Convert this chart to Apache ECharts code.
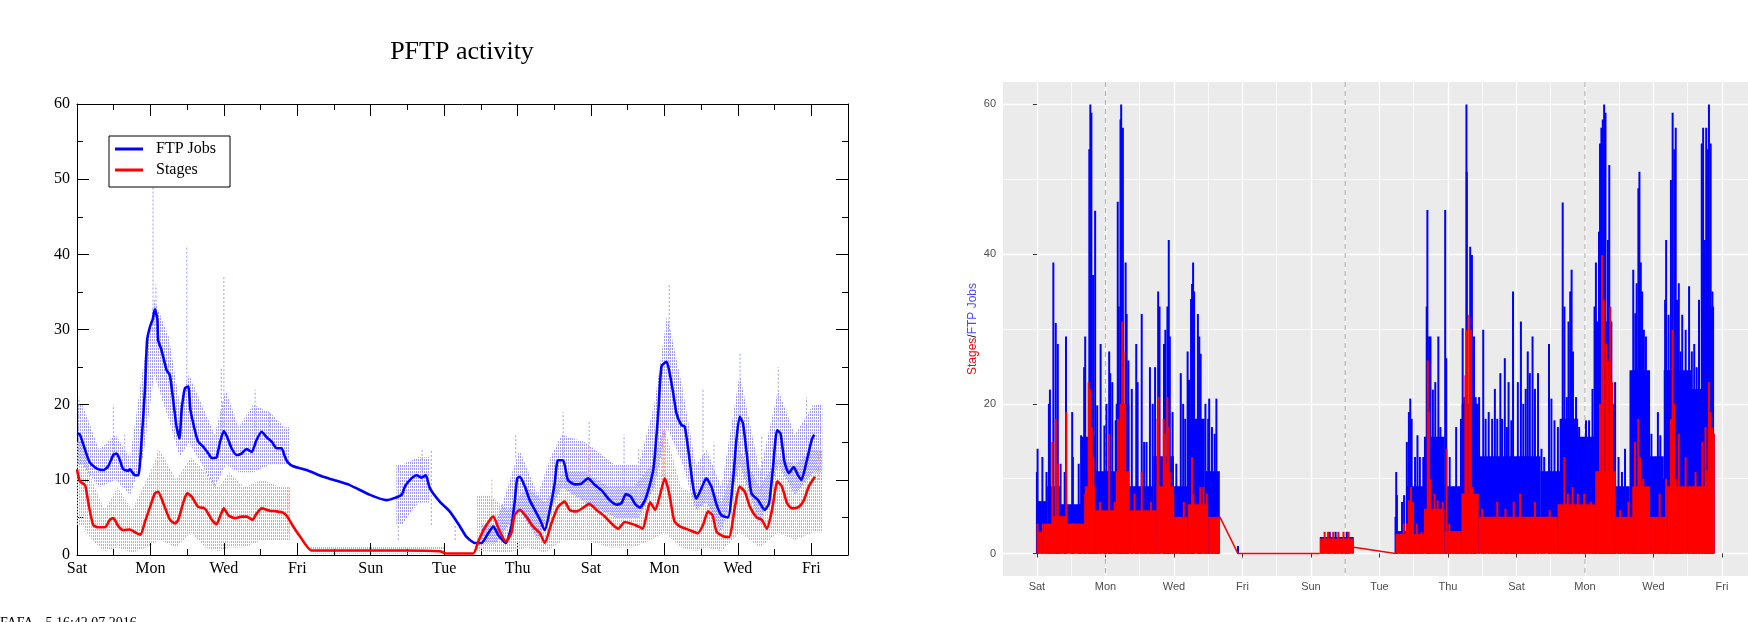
<!DOCTYPE html>
<html>
<head>
<meta charset="utf-8">
<title>PFTP activity</title>
<script src="https://cdn.jsdelivr.net/npm/echarts@6/dist/echarts.min.js"></script>
<style>
html, body { margin: 0; padding: 0; background: #fff; }
#main { width: 1748px; height: 622px; }
</style>
</head>
<body>
<div id="main"></div>
<script>
// day 0 is a Saturday, labels every 2 days
const dayNames = ['Sat', 'Sun', 'Mon', 'Tue', 'Wed', 'Thu', 'Fri'];

// ---- left panel (xmgrace plot) ----
// smoothed curves [day, value]
const jobsSmooth = [
	[0,16.2],[0.08,16.0],[0.22,14.0],[0.35,12.3],[0.54,11.5],[0.72,11.3],[0.85,11.8],[0.99,13.3],[1.08,13.5],[1.17,12.6],
	[1.26,11.4],[1.4,11.2],[1.44,11.4],[1.58,10.6],[1.67,10.6],[1.76,15.3],[1.85,22.0],[1.91,28.6],[1.99,30.4],[2.06,31.3],
	[2.12,32.7],[2.19,31.3],[2.21,28.6],[2.3,27.3],[2.44,24.6],[2.53,23.9],[2.62,20.6],[2.71,17.1],[2.79,15.5],[2.85,19.3],
	[2.94,22.2],[3.03,22.4],[3.09,19.3],[3.21,16.6],[3.3,15.1],[3.44,14.4],[3.58,13.5],[3.67,12.9],[3.8,13.0],[3.89,14.9],
	[4.0,16.5],[4.09,15.7],[4.21,14.2],[4.35,13.3],[4.48,13.5],[4.62,14.1],[4.76,13.7],[4.89,15.3],[5.03,16.4],[5.16,15.7],
	[5.3,15.1],[5.44,14.2],[5.57,14.2],[5.66,13.1],[5.73,12.4],[5.89,11.8],[6.25,11.3],[6.71,10.4],[6.98,10.0],[7.43,9.3],
	[7.98,8.0],[8.43,7.3],[8.84,8.0],[8.93,9.1],[9.07,10.0],[9.25,10.6],[9.38,10.3],[9.5,10.6],[9.61,8.9],[9.88,7.1],
	[10.15,5.8],[10.43,3.8],[10.61,2.4],[10.84,1.6],[11.02,1.6],[11.2,2.9],[11.34,3.8],[11.47,2.7],[11.68,1.6],[11.83,3.8],
	[11.92,7.0],[11.99,10.2],[12.06,10.4],[12.2,9.1],[12.33,7.3],[12.47,6.0],[12.61,4.7],[12.74,3.3],[12.88,6.0],[13.01,9.5],
	[13.1,12.6],[13.24,12.6],[13.37,10.0],[13.56,9.4],[13.74,9.5],[13.92,10.2],[14.11,9.3],[14.29,8.6],[14.51,7.3],[14.7,6.7],
	[14.83,6.9],[14.95,8.1],[15.08,7.8],[15.2,6.8],[15.33,6.3],[15.47,7.3],[15.61,9.5],[15.71,11.8],[15.83,18.8],[15.92,25.1],
	[16.06,25.7],[16.15,24.0],[16.24,21.5],[16.33,18.8],[16.46,17.3],[16.55,17.1],[16.65,14.0],[16.78,9.1],[16.87,7.5],[17.01,8.9],
	[17.14,10.2],[17.28,9.1],[17.42,6.7],[17.55,5.3],[17.73,5.0],[17.87,10.0],[17.96,15.3],[18.05,18.4],[18.14,17.5],[18.25,13.1],
	[18.37,8.2],[18.55,7.3],[18.73,6.0],[18.85,6.9],[18.96,11.8],[19.07,16.6],[19.16,16.2],[19.27,12.4],[19.39,10.9],[19.52,11.7],
	[19.64,10.6],[19.73,10.0],[19.87,12.4],[20.01,15.3],[20.08,16.0]
];
const stagesSmooth = [
	[0,11.4],[0.08,9.8],[0.22,9.3],[0.31,6.9],[0.44,4.0],[0.58,3.7],[0.76,3.7],[0.9,4.7],[0.99,4.9],[1.13,3.8],
	[1.26,3.3],[1.44,3.4],[1.62,2.9],[1.73,2.7],[1.85,4.4],[1.99,6.4],[2.12,8.2],[2.21,8.4],[2.35,6.9],[2.53,4.7],
	[2.67,4.2],[2.76,4.7],[2.89,6.9],[3.0,8.2],[3.12,7.8],[3.3,6.4],[3.48,6.2],[3.67,4.7],[3.8,4.1],[3.91,5.3],
	[4.0,6.2],[4.12,5.3],[4.3,4.9],[4.48,5.1],[4.62,5.1],[4.78,4.7],[4.89,5.5],[5.03,6.2],[5.25,5.9],[5.44,5.8],
	[5.62,5.6],[5.73,5.1],[5.89,3.8],[6.07,2.5],[6.39,0.6],[7.62,0.6],[8.98,0.6],[9.88,0.5],[10.06,0.2],[10.79,0.2],
	[10.93,1.8],[11.07,3.3],[11.25,4.7],[11.34,5.1],[11.5,3.3],[11.68,1.8],[11.83,2.9],[11.92,5.3],[12.06,6.0],[12.24,5.1],
	[12.42,3.8],[12.61,2.9],[12.74,1.6],[12.92,4.2],[13.1,6.4],[13.28,7.1],[13.42,6.0],[13.61,5.8],[13.79,6.3],[13.95,6.8],
	[14.15,6.0],[14.38,5.1],[14.6,4.0],[14.74,3.5],[14.92,4.4],[15.08,4.2],[15.25,3.9],[15.41,3.5],[15.52,5.5],[15.61,7.0],
	[15.75,6.0],[15.87,7.8],[16.01,10.2],[16.13,8.2],[16.27,4.5],[16.42,3.8],[16.69,3.3],[16.91,2.9],[17.05,4.0],[17.19,5.8],
	[17.31,5.3],[17.42,3.1],[17.6,2.5],[17.76,2.4],[17.92,6.4],[18.05,9.1],[18.19,8.4],[18.33,6.4],[18.51,5.0],[18.65,4.7],
	[18.79,3.5],[18.93,6.0],[19.08,9.8],[19.2,9.1],[19.34,6.9],[19.48,6.2],[19.66,6.4],[19.8,7.3],[19.93,9.1],[20.1,10.4]
];
// raw-sample scatter, as bands [dayFrom, dayTo, low, high]
const jobsNoise = [
	[0,0.3,12,20],[0.3,0.9,9,14],[0.9,1.2,10,16],[1.2,1.7,8,13],[1.7,1.9,13,25],[1.9,2.3,24,34],[2.3,2.7,18,29],
	[2.7,2.9,13,20],[2.9,3.2,15,24],[3.2,3.6,12,20],[3.6,3.9,9,16],[3.9,4.2,12,22],[4.2,4.6,11,17],[4.6,5.0,11,20],
	[5.0,5.5,12,19],[5.5,5.8,12,17],[8.7,9.0,4,12],[9.0,9.6,7,13],[11.0,11.8,1.5,4],[11.8,12.3,6,14],[12.3,12.8,2,8],
	[12.8,13.0,6,13],[13.0,13.4,9,16],[13.4,14.3,7,15],[14.3,15.0,5,12],[15.0,15.6,5,12],[15.6,15.85,9,20],[15.85,16.3,17,32],
	[16.3,16.7,12,22],[16.7,17.0,6,12],[17.0,17.3,7,14],[17.3,17.8,3,9],[17.8,18.3,12,24],[18.3,18.9,4,11],[18.9,19.3,12,22],
	[19.3,19.8,8,16],[19.8,20.3,11,20]
];
const stagesNoise = [
	[0,0.3,4,15],[0.3,0.5,2,10],[0.5,1.0,0.5,6],[1.0,1.2,1,9],[1.2,1.8,0.3,6],[1.8,2.0,1,10],[2.0,2.5,2,14],[2.5,2.9,1,10],
	[2.9,3.3,3,13],[3.3,3.7,1,11],[3.7,4.0,0.5,9],[4.0,4.3,1,11],[4.3,4.8,1,9],[4.8,5.3,2,10],[5.3,5.8,2,9],
	[6.35,10.0,0.2,1.1],[10.9,11.5,0.5,8],[11.5,12.0,0.3,6],[12.0,12.5,1,9],[12.5,13.0,0.3,7],[13.0,13.5,2,11],[13.5,14.2,2,11],
	[14.2,14.8,1,9],[14.8,15.5,1,9],[15.5,15.8,2,12],[15.8,16.2,3,17],[16.2,16.7,1,9],[16.7,17.0,0.5,8],[17.0,17.3,1,10],
	[17.3,17.8,0.5,7],[17.8,18.3,3,14],[18.3,18.9,1,9],[18.9,19.3,3,13],[19.3,19.8,2,12],[19.8,20.3,3,14]
];
// isolated dotted streaks [day, low, high]
const jobsStreaks = [
	[0.05,14,21],[0.99,13,20],[1.3,11,16],[2.07,30,50],[2.15,30,36],[2.5,24,28],[2.99,22,41],[3.93,16,25],[4.0,17,37],
	[4.85,16,22],[5.25,16,19],[8.75,2,12],[9.4,10,14],[9.65,4,14],[10.3,2,4],[11.95,13,16],[13.24,13,19],[13.95,10,18],
	[14.9,9,16],[15.3,9,14],[16.13,25,36],[16.45,17,21],[17.05,10,22],[17.35,8,15],[18.06,18,27],[18.65,8,16],[19.1,18,25],
	[19.87,15,21],[20.25,13,20]
];
const stagesStreaks = [
	[2.2,8,14],[5.75,3,9],[11.3,5,10],[13.93,9,14],[15.95,10,18],[16.0,10,17],[18.05,10,15],[20.2,10,14]
];

// ---- right panel (ggplot) ----
// dense filled level [dayFrom, dayTo, value]
const ftpBase = [
	[0,0.3,7],[0.3,0.7,9],[0.7,1.3,6.6],[1.3,1.7,15.6],[1.7,2.3,11],[2.3,2.7,20],[2.7,3.4,9],[3.4,4.0,13],[4.0,4.4,9],
	[4.4,4.9,18],[4.9,5.34,11],[8.26,9.25,2.2],[10.47,10.8,3],[10.8,11.3,9],[11.3,11.9,15.6],[11.9,12.4,9],[12.4,12.9,20],
	[12.9,14.7,13],[14.7,15.3,11],[15.3,15.8,18],[15.8,16.3,15.6],[16.3,16.8,31],[16.8,17.3,9],[17.3,17.9,24.5],
	[17.9,18.3,13],[18.3,19.1,24.5],[19.1,19.4,22],[19.4,19.77,33]
];
const stageBase = [
	[0,0.15,2.9],[0.15,0.45,4],[0.45,0.9,5],[0.9,1.4,4],[1.4,1.7,9],[1.7,2.3,5.8],[2.3,2.7,11],[2.7,3.5,5.8],[3.5,4.0,9],
	[4.0,4.4,4.9],[4.4,5.0,6.6],[5.0,5.34,4.9],[8.26,9.25,2.0],[10.47,11.3,2.6],[11.3,11.9,6],[11.9,12.4,3],[12.4,12.9,8],
	[12.9,15.2,4.9],[15.2,16.3,6.6],[16.3,16.9,11],[16.9,17.4,4.9],[17.4,17.9,9],[17.9,18.4,4.9],[18.4,19.0,9],[19.0,19.77,9]
];
// individual peaks [day, value]
const ftpSpikes = [
	[0.0,10.9],[0.02,14.0],[0.16,12.9],[0.28,10.9],[0.35,20.0],[0.38,21.9],[0.48,38.9],[0.55,30.8],[0.61,28.0],[0.69,12.0],
	[0.81,10.9],[0.85,29.0],[1.03,18.9],[1.05,12.9],[1.22,12.0],[1.29,15.8],[1.38,24.9],[1.41,29.0],[1.53,54.0],[1.56,60.0],
	[1.59,58.9],[1.64,37.2],[1.70,45.8],[1.76,19.8],[1.86,28.0],[1.97,17.1],[2.03,20.0],[2.11,27.0],[2.14,24.1],[2.20,22.9],
	[2.30,17.8],[2.36,47.0],[2.39,33.0],[2.44,58.0],[2.46,60.0],[2.51,56.9],[2.59,38.9],[2.62,32.0],[2.67,25.8],[2.77,22.0],
	[2.90,28.0],[2.94,22.9],[3.06,32.0],[3.13,14.9],[3.20,14.9],[3.30,24.9],[3.38,20.0],[3.45,24.9],[3.54,35.0],[3.58,33.0],
	[3.71,28.0],[3.75,29.9],[3.81,33.0],[3.85,41.9],[3.88,29.0],[3.96,18.9],[4.07,12.0],[4.20,24.1],[4.27,20.0],[4.33,18.0],
	[4.40,27.0],[4.44,23.2],[4.50,34.0],[4.53,36.0],[4.56,38.9],[4.59,35.0],[4.70,32.0],[4.74,29.0],[4.78,26.7],[4.92,20.0],
	[5.00,18.0],[5.03,20.7],[5.11,16.9],[5.19,16.0],[5.24,20.7],[5.28,10.9],[5.87,1.0],
	[8.33,1.8],[8.55,2.9],[8.72,2.9],[8.9,2.2],[9.05,2.9],
	[10.47,4.9],[10.49,10.9],[10.51,7.8],[10.66,6.9],[10.72,7.8],[10.80,14.9],[10.86,18.9],[10.90,20.7],[10.94,18.0],[11.04,12.9],
	[11.11,15.8],[11.18,12.9],[11.28,12.9],[11.38,33.0],[11.40,45.9],[11.45,29.0],[11.49,29.0],[11.56,21.9],[11.63,22.9],[11.72,29.0],
	[11.78,16.9],[11.86,14.9],[11.92,45.9],[11.95,26.1],[12.05,12.9],[12.16,8.9],[12.24,16.9],[12.29,8.9],[12.38,18.0],[12.43,30.1],
	[12.48,20.9],[12.54,60.0],[12.55,51.0],[12.65,41.0],[12.70,39.9],[12.76,29.0],[12.81,20.9],[12.91,20.9],[13.03,29.9],[13.10,18.0],
	[13.19,18.9],[13.29,18.0],[13.37,22.0],[13.44,18.0],[13.53,24.1],[13.58,18.0],[13.66,26.1],[13.72,16.9],[13.77,22.9],[13.85,17.8],
	[13.90,35.0],[13.96,12.9],[14.04,22.9],[14.13,31.0],[14.20,20.0],[14.27,22.0],[14.33,27.0],[14.39,24.1],[14.47,29.0],[14.54,22.0],
	[14.63,24.1],[14.73,14.0],[14.81,12.9],[14.95,28.0],[15.02,20.7],[15.11,17.8],[15.21,16.9],[15.29,18.0],[15.35,46.9],[15.40,33.0],
	[15.47,20.9],[15.52,31.0],[15.57,35.0],[15.61,37.9],[15.65,27.0],[15.74,20.9],[15.83,16.9],[15.93,12.9],[16.03,17.8],[16.12,17.8],
	[16.22,22.0],[16.28,33.0],[16.32,38.9],[16.41,43.0],[16.44,54.8],[16.48,56.9],[16.52,58.0],[16.56,60.0],[16.60,58.9],[16.67,41.9],
	[16.71,51.9],[16.76,24.9],[16.84,20.0],[16.88,22.9],[16.98,12.9],[17.08,10.9],[17.17,14.0],[17.27,8.9],[17.36,18.0],[17.41,37.9],
	[17.47,32.1],[17.51,36.1],[17.56,48.8],[17.59,51.0],[17.63,38.9],[17.67,35.0],[17.72,29.9],[17.78,29.0],[17.84,20.7],[17.94,16.0],
	[18.04,12.9],[18.13,18.9],[18.20,15.8],[18.28,10.0],[18.34,33.9],[18.37,41.9],[18.44,31.9],[18.51,49.9],[18.56,58.9],[18.61,54.0],
	[18.65,56.9],[18.69,33.9],[18.74,36.1],[18.79,27.0],[18.84,31.9],[18.94,29.9],[19.04,35.7],[19.12,27.0],[19.19,28.0],[19.26,24.9],
	[19.33,33.9],[19.41,54.8],[19.45,56.9],[19.50,41.9],[19.54,56.9],[19.58,54.0],[19.62,60.0],[19.67,54.8],[19.72,35.0],[19.76,16.0]
];
const stageSpikes = [
	[0.02,4.0],[0.45,14.9],[0.55,18.0],[0.61,12.0],[0.86,18.9],[1.03,4.0],[1.41,8.0],[1.51,22.9],[1.55,22.0],[1.60,16.9],
	[1.65,12.9],[1.84,6.9],[2.11,16.0],[2.27,6.9],[2.37,18.0],[2.44,20.0],[2.49,31.0],[2.53,27.0],[2.58,20.0],[2.66,6.0],
	[2.85,8.0],[3.06,10.9],[3.33,6.9],[3.52,18.0],[3.55,20.9],[3.70,18.0],[3.74,16.0],[3.78,12.0],[3.81,20.9],[3.85,16.9],
	[3.88,10.9],[3.98,8.0],[4.29,6.9],[4.53,12.9],[4.57,8.0],[4.77,8.9],[4.86,8.9],[4.96,8.0],[5.29,4.9],
	[8.4,2.9],[8.5,2.9],[8.65,2.9],[8.8,2.9],[8.95,2.9],[9.1,2.9],
	[10.71,4.0],[10.80,4.0],[10.86,7.1],[10.92,8.9],[10.98,6.9],[11.09,4.0],[11.23,2.9],[11.38,5.8],[11.41,25.8],[11.45,18.9],
	[11.49,10.0],[11.61,8.0],[11.70,7.1],[11.85,6.9],[11.96,14.0],[12.04,4.0],[12.43,8.0],[12.51,23.8],[12.55,29.9],[12.62,31.9],
	[12.67,29.9],[12.72,8.9],[12.81,7.1],[13.00,6.0],[13.44,6.9],[13.68,6.0],[13.92,6.9],[14.11,8.0],[14.54,6.9],[14.97,5.8],
	[15.40,12.9],[15.50,8.0],[15.64,8.9],[15.79,8.0],[15.98,8.0],[16.17,6.9],[16.36,10.0],[16.44,20.0],[16.50,39.9],[16.55,33.9],
	[16.62,28.0],[16.67,25.8],[16.74,33.0],[16.79,22.9],[16.86,8.0],[17.03,5.8],[17.27,6.9],[17.41,8.9],[17.46,14.9],[17.56,18.0],
	[17.61,12.9],[17.70,10.0],[17.84,6.9],[18.18,8.0],[18.37,10.0],[18.51,18.0],[18.56,29.9],[18.61,20.0],[18.65,10.0],[18.74,16.0],
	[18.84,8.9],[18.94,12.9],[19.04,8.9],[19.23,10.9],[19.33,8.0],[19.43,14.9],[19.52,16.9],[19.56,11.1],[19.62,22.9],[19.67,18.9],
	[19.72,16.9],[19.76,16.0]
];
// stages line across the gaps in the right panel
const stageGapLine = [[5.34,4.9],[5.87,0],[8.26,0],['-','-'],[9.25,0.85],[10.47,0]];
const weekStarts = [2, 9, 16];
const rightMajorX = [0, 2, 4, 6, 8, 10, 12, 14, 16, 18, 20];
const rightMinorX = [1, 3, 5, 7, 9, 11, 13, 15, 17, 19];
const rightMajorY = [0, 20, 40, 60];
const rightMinorY = [10, 30, 50];

const serif = 'Liberation Serif';
const sans = 'Liberation Sans';

function dotPattern(color, offset) {
	const c = document.createElement('canvas');
	c.width = 2;
	c.height = 3;
	const g = c.getContext('2d');
	g.fillStyle = color;
	g.fillRect(offset, offset, 1, 2);
	return { image: c, repeat: 'repeat' };
}

// band between bin centres, joined to neighbouring bins when they touch
const bandRender = (rows, fill) => (params, api) => {
	const i = params.dataIndex;
	const cur = rows[i];
	const mid = (cur[0] + cur[1]) / 2;
	const prev = i > 0 && rows[i - 1][1] === cur[0] ? rows[i - 1] : null;
	const next = i < rows.length - 1 && rows[i + 1][0] === cur[1] ? rows[i + 1] : null;
	const top = [];
	const bottom = [];
	if (prev) {
		const pm = (prev[0] + prev[1]) / 2;
		top.push([pm, prev[3]]);
		bottom.push([pm, prev[2]]);
	} else {
		top.push([cur[0], cur[3]]);
		bottom.push([cur[0], cur[2]]);
	}
	top.push([mid, cur[3]]);
	bottom.push([mid, cur[2]]);
	if (!next) {
		top.push([cur[1], cur[3]]);
		bottom.push([cur[1], cur[2]]);
	}
	const pts = top.concat(bottom.reverse()).map((p) => api.coord(p));
	return { type: 'polygon', shape: { points: pts }, style: { fill: fill } };
};
const streakRender = (color) => (params, api) => {
	const a = api.coord([api.value(0), api.value(1)]);
	const b = api.coord([api.value(0), api.value(2)]);
	return { type: 'line', shape: { x1: a[0], y1: a[1], x2: b[0], y2: b[1] }, style: { stroke: color, lineWidth: 1, lineDash: [2, 2] } };
};
const baseRender = (color) => (params, api) => {
	const a = api.coord([api.value(0), api.value(2)]);
	const b = api.coord([api.value(1), 0]);
	return { type: 'rect', shape: { x: a[0], y: a[1], width: b[0] - a[0], height: b[1] - a[1] }, style: { fill: color } };
};
const spikeRender = (color) => (params, api) => {
	const a = api.coord([api.value(0), api.value(1)]);
	const b = api.coord([api.value(0), 0]);
	return { type: 'rect', shape: { x: a[0] - 1, y: a[1], width: 2, height: b[1] - a[1] }, style: { fill: color } };
};
const vlineRender = (params, api) => {
	const a = api.coord([api.value(0), 63]);
	const b = api.coord([api.value(0), -3]);
	return { type: 'line', shape: { x1: a[0], y1: a[1], x2: b[0], y2: b[1] }, style: { stroke: '#a8a8a8', lineWidth: 1, lineDash: [5, 4] } };
};

const leftX = (pos, labels) => ({
	gridIndex: 0, type: 'value', min: 0, max: 21, interval: 2, position: pos,
	axisLine: { show: true, onZero: false, lineStyle: { color: '#000', width: 1 } },
	axisTick: { show: true, inside: true, length: 12, lineStyle: { color: '#000' } },
	minorTick: { show: true, splitNumber: 2, length: 6, lineStyle: { color: '#000' } },
	axisLabel: { show: labels, formatter: (v) => dayNames[v % 7], fontFamily: serif, fontSize: 16, color: '#000', margin: 6, showMaxLabel: false },
	splitLine: { show: false }
});
const leftY = (pos, labels) => ({
	gridIndex: 0, type: 'value', min: 0, max: 60, interval: 10, position: pos,
	axisLine: { show: true, onZero: false, lineStyle: { color: '#000', width: 1 } },
	axisTick: { show: true, inside: true, length: 12, lineStyle: { color: '#000' } },
	minorTick: { show: true, splitNumber: 2, length: 6, lineStyle: { color: '#000' } },
	axisLabel: { show: labels, fontFamily: serif, fontSize: 16, color: '#000', margin: 7 },
	splitLine: { show: false }
});

const chart = echarts.init(document.getElementById('main'));
chart.setOption({
	animation: false,
	backgroundColor: '#fff',
	graphic: [
		{ type: 'text', x: 462, y: 52, style: { text: 'PFTP activity', font: '26px "Liberation Serif"', fill: '#000', textAlign: 'center', textVerticalAlign: 'middle' } },
		{ type: 'text', x: 0, y: 616, style: { text: 'FAFA - 5 16:42 07 2016', font: '14px "Liberation Serif"', fill: '#000', textAlign: 'left', textVerticalAlign: 'top' } }
	],
	legend: {
		data: ['FTP Jobs', 'Stages'],
		orient: 'vertical', left: 109, top: 136,
		backgroundColor: '#fff', borderColor: '#000', borderWidth: 1, borderRadius: 0,
		padding: [5, 14, 9, 6], itemGap: 5, itemWidth: 28, itemHeight: 3, icon: 'rect',
		selectedMode: false,
		textStyle: { fontFamily: serif, fontSize: 16, color: '#000', lineHeight: 16, padding: [0, 0, 0, 8] }
	},
	grid: [
		{ left: 77, top: 104, width: 771, height: 451 },
		{ left: 1003, top: 82, width: 757, height: 494, show: true, backgroundColor: '#EBEBEB', borderWidth: 0 }
	],
	xAxis: [
		leftX('bottom', true),
		leftX('top', false),
		{
			gridIndex: 1, type: 'value', min: -0.99, max: 20.76,
			axisLine: { show: false },
			axisTick: { show: true, customValues: rightMajorX, length: 4, lineStyle: { color: '#333' } },
			axisLabel: { customValues: rightMajorX, formatter: (v) => dayNames[v % 7], fontFamily: sans, fontSize: 11, color: '#4d4d4d', margin: 5 },
			splitLine: { show: true, lineStyle: { color: '#fff', width: 1.4 } }
		},
		{
			gridIndex: 1, type: 'value', min: -0.99, max: 20.76,
			axisLine: { show: false },
			axisTick: { show: false, customValues: rightMinorX },
			axisLabel: { show: false, customValues: rightMinorX },
			splitLine: { show: true, lineStyle: { color: '#fff', width: 0.7 } }
		}
	],
	yAxis: [
		leftY('left', true),
		leftY('right', false),
		{
			gridIndex: 1, type: 'value', min: -3, max: 63,
			name: '{s|Stages}{k|/}{f|FTP Jobs}', nameLocation: 'middle', nameGap: 24,
			nameTextStyle: { fontFamily: sans, fontSize: 12, rich: { s: { color: '#ff0000', fontSize: 12, fontFamily: sans }, k: { color: '#000', fontSize: 12, fontFamily: sans }, f: { color: '#4a4aff', fontSize: 12, fontFamily: sans } } },
			axisLine: { show: false },
			axisTick: { show: true, customValues: rightMajorY, length: 4, lineStyle: { color: '#333' } },
			axisLabel: { customValues: rightMajorY, fontFamily: sans, fontSize: 11, color: '#4d4d4d', margin: 7 },
			splitLine: { show: true, lineStyle: { color: '#fff', width: 1.4 } }
		},
		{
			gridIndex: 1, type: 'value', min: -3, max: 63,
			axisLine: { show: false },
			axisTick: { show: false, customValues: rightMinorY },
			axisLabel: { show: false, customValues: rightMinorY },
			splitLine: { show: true, lineStyle: { color: '#fff', width: 0.7 } }
		}
	],
	series: [
		// left panel
		{ type: 'custom', name: 'jobs samples', xAxisIndex: 0, yAxisIndex: 0, data: jobsNoise, encode: { x: [0, 1], y: [2, 3] }, renderItem: bandRender(jobsNoise, dotPattern('#9999ff', 0)), silent: true, z: 1 },
		{ type: 'custom', name: 'stage samples', xAxisIndex: 0, yAxisIndex: 0, data: stagesNoise, encode: { x: [0, 1], y: [2, 3] }, renderItem: bandRender(stagesNoise, dotPattern('#ff9999', 1)), silent: true, z: 1 },
		{ type: 'custom', name: 'jobs streaks', xAxisIndex: 0, yAxisIndex: 0, data: jobsStreaks, encode: { x: 0, y: [1, 2] }, renderItem: streakRender('#9a9aff'), silent: true, z: 1 },
		{ type: 'custom', name: 'stage streaks', xAxisIndex: 0, yAxisIndex: 0, data: stagesStreaks, encode: { x: 0, y: [1, 2] }, renderItem: streakRender('#ff9a9a'), silent: true, z: 1 },
		{ type: 'line', name: 'FTP Jobs', xAxisIndex: 0, yAxisIndex: 0, data: jobsSmooth, symbol: 'none', smooth: 0.2, lineStyle: { color: '#0000ff', width: 2.6 }, itemStyle: { color: '#0000ff' }, z: 3 },
		{ type: 'line', name: 'Stages', xAxisIndex: 0, yAxisIndex: 0, data: stagesSmooth, symbol: 'none', smooth: 0.2, lineStyle: { color: '#ff0000', width: 2.6 }, itemStyle: { color: '#ff0000' }, z: 4 },
		// right panel
		{ type: 'custom', name: 'week marks', xAxisIndex: 2, yAxisIndex: 2, data: weekStarts.map((d) => [d]), encode: { x: 0 }, renderItem: vlineRender, silent: true, z: 1 },
		{ type: 'custom', name: 'jobs fill', xAxisIndex: 2, yAxisIndex: 2, data: ftpBase, encode: { x: [0, 1], y: 2 }, renderItem: baseRender('#0000ff'), silent: true, z: 2 },
		{ type: 'custom', name: 'jobs peaks', xAxisIndex: 2, yAxisIndex: 2, data: ftpSpikes, encode: { x: 0, y: 1 }, renderItem: spikeRender('#0000ff'), silent: true, z: 2 },
		{ type: 'custom', name: 'stage fill', xAxisIndex: 2, yAxisIndex: 2, data: stageBase, encode: { x: [0, 1], y: 2 }, renderItem: baseRender('#ff0000'), silent: true, z: 3 },
		{ type: 'custom', name: 'stage peaks', xAxisIndex: 2, yAxisIndex: 2, data: stageSpikes, encode: { x: 0, y: 1 }, renderItem: spikeRender('#ff0000'), silent: true, z: 3 },
		{ type: 'line', name: 'stage gaps', xAxisIndex: 2, yAxisIndex: 2, data: stageGapLine, symbol: 'none', connectNulls: false, lineStyle: { color: '#ff0000', width: 1.5 }, silent: true, z: 3 }
	]
});
</script>
</body>
</html>
